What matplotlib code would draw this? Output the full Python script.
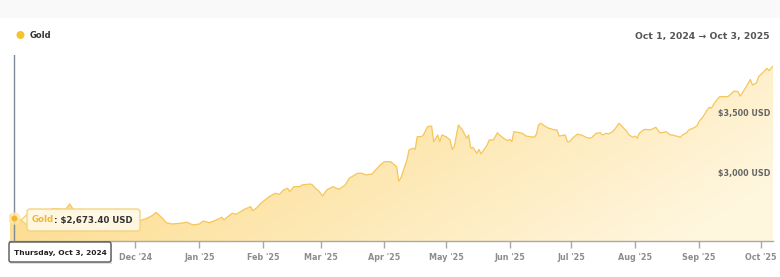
import numpy as np
import pandas as pd
import matplotlib
matplotlib.use("Agg")
import matplotlib.pyplot as plt
import matplotlib.dates as mdates
from matplotlib.patches import FancyBboxPatch, Polygon, Rectangle, Circle
from matplotlib.transforms import IdentityTransform

# gold price (days after Oct 1, 2024 -> USD)
start = pd.Timestamp("2024-10-01")
day_offset = [
    0, 2, 6, 9, 13, 15, 17, 21, 24, 27, 29, 31, 35, 36, 38, 42, 44, 48, 50, 52,
    55, 57, 59, 63, 66, 69, 71, 74, 76, 79, 83, 86, 89, 92,
    94, 97, 101, 103, 104, 108, 110, 114, 117, 118, 120, 122, 126, 129, 131, 133,
    135, 136, 138, 141, 142, 146, 147, 149, 150, 152, 154, 157, 160, 163, 165, 169,
    171, 173, 176, 180, 182, 185,
    188, 189, 190, 193, 194, 196, 197, 198, 200, 201, 203, 205, 206, 208, 209, 210,
    212, 214, 215, 216, 218, 220, 222, 223, 224, 225, 227, 228, 229, 232, 233, 235,
    237, 238, 240, 242, 243, 244, 245, 248, 249, 251, 253, 255, 256, 257, 258, 261,
    262, 265, 266, 267, 270, 271, 272,
    274, 276, 277, 278, 280, 282, 283, 285, 287, 288, 290, 291, 293, 295, 296, 298,
    300, 301, 303, 304, 305, 306, 308, 309, 311, 312, 314, 316, 317, 319, 321, 322,
    324, 326, 327, 329, 330, 332, 334, 335, 337, 339, 340, 341, 343, 345, 347, 349,
    351, 352, 354, 355, 356, 358, 360, 361, 363, 364, 366, 368, 369, 371,
]
price = [
    2690, 2673.4, 2645, 2630, 2650, 2675, 2720, 2748, 2745, 2742, 2787, 2736, 2742, 2660, 2685, 2600, 2568, 2612, 2650, 2712,
    2625, 2635, 2655, 2650, 2665, 2690, 2718, 2672, 2633, 2623, 2629, 2637, 2615, 2622,
    2647, 2633, 2661, 2678, 2656, 2711, 2702, 2743, 2765, 2732, 2756, 2793, 2847, 2875, 2866, 2902,
    2916, 2888, 2929, 2929, 2943, 2951, 2943, 2907, 2896, 2852, 2902, 2929, 2907, 2943, 2998, 3039,
    3039, 3025, 3033, 3107, 3134, 3134,
    3093, 2975, 2998, 3148, 3230, 3244, 3235, 3339, 3339, 3353, 3421, 3426, 3298, 3353, 3298, 3353,
    3339, 3312, 3235, 3257, 3435, 3394, 3326, 3353, 3244, 3252, 3203, 3235, 3197, 3271, 3312, 3312,
    3371, 3353, 3326, 3306, 3317, 3298, 3380, 3371, 3367, 3344, 3339, 3334, 3361, 3435, 3449, 3416,
    3408, 3394, 3394, 3344, 3353, 3298, 3298,
    3334, 3361, 3353, 3353, 3334, 3326, 3334, 3367, 3371, 3353, 3367, 3361, 3380, 3421, 3449, 3416,
    3380, 3353, 3334, 3344, 3326, 3367, 3394, 3399, 3394, 3399, 3416, 3371, 3371, 3380, 3353, 3353,
    3344, 3334, 3353, 3371, 3394, 3408, 3426, 3462, 3503, 3558, 3580, 3572, 3626, 3667, 3667, 3667,
    3695, 3713, 3708, 3672, 3695, 3749, 3809, 3763, 3781, 3831, 3863, 3900, 3880, 3918,
]
month_ticks = pd.date_range("2024-10-01", "2025-10-01", freq="MS")
# Oct/Nov '24 labels sit under the date tooltip
month_labels = ["", ""] + [d.strftime("%b '%y") for d in month_ticks[2:]]
y_ticks = [3000, 3500]
y_tick_labels = ["$3,000 USD", "$3,500 USD"]
hover_date = pd.Timestamp("2024-10-03")
hover_price = 2673.40

W, H = 780, 277
y_min, y_max = 2483, 4009

dates = start + pd.to_timedelta(day_offset, unit="D")
x = mdates.date2num(dates)

fig = plt.figure(figsize=(W / 100, H / 100), dpi=100)
fig.patch.set_facecolor("white")
fig.add_artist(Rectangle((0, H - 18), W, 18, transform=IdentityTransform(),
                         facecolor="#f9f9f9", edgecolor="none", zorder=0))

ax = fig.add_axes([9 / W, (H - 241) / H, (773 - 9) / W, (241 - 55) / H])
ax.set_facecolor("none")
x0 = mdates.date2num(start - pd.Timedelta(hours=12))
x1 = mdates.date2num(start + pd.Timedelta(days=371))
ax.set_xlim(x0, x1)
ax.set_ylim(y_min, y_max)

# gradient area under the line
verts = [(x[0], y_min)] + list(zip(x, price)) + [(x[-1], y_min)]
clip = Polygon(verts, closed=True, facecolor="none", edgecolor="none")
ax.add_patch(clip)
nx, ny = 300, 80
tx = np.linspace(0, 1, nx)[None, :]
ty = np.linspace(1, 0, ny)[:, None]
t = np.clip(0.8 * tx + 0.3 * (1 - ty), 0, 1)
c_left = np.array([252, 212, 118]) / 255
c_right = np.array([255, 246, 222]) / 255
img = c_left[None, None, :] * (1 - t[..., None]) + c_right[None, None, :] * t[..., None]
im = ax.imshow(img, extent=[x0, x1, y_min, y_max], aspect="auto", origin="upper", zorder=1)
im.set_clip_path(clip)

ax.plot(x, price, color="#f6c65a", lw=0.9, zorder=3)

# axes styling
for s in ["top", "right", "left"]:
    ax.spines[s].set_visible(False)
ax.spines["bottom"].set_color("#a8a8a8")
ax.spines["bottom"].set_linewidth(1)
ax.spines["bottom"].set_zorder(4)
ax.set_yticks([])
ax.set_xticks(mdates.date2num(month_ticks))
ax.set_xticklabels(month_labels)
ax.tick_params(axis="x", direction="out", length=5, width=1, color="#a8a8a8",
               labelsize=5.8, labelcolor="#8c8c8c", pad=4)
for lab in ax.get_xticklabels():
    lab.set_fontweight("bold")

for v, lab in zip(y_ticks, y_tick_labels):
    ax.annotate(lab, xy=(1, v), xycoords=("axes fraction", "data"), xytext=(-3, 4),
                textcoords="offset pixels", ha="right", va="center",
                fontsize=5.8, fontweight="bold", color="#666666", zorder=5)

# hover cursor
hx = mdates.date2num(hover_date)
ax.axvline(hx, color="#7e8a96", lw=1, zorder=4)
ax.scatter([hx], [hover_price], s=80, color="#fde7a8", alpha=0.8, zorder=5, linewidths=0)
ax.scatter([hx], [hover_price], s=18, color="#f3b62c", zorder=6, linewidths=0)

# legend + header
fig.add_artist(Circle((20.5, H - 35), 4, transform=IdentityTransform(),
                      facecolor="#f7c22e", edgecolor="none"))
fig.text(30 / W, 1 - 35 / H, "Gold", fontsize=6, fontweight="bold", color="#333333",
         ha="left", va="center")
fig.text(770 / W, 1 - 37 / H, "Oct 1, 2024 \u2192 Oct 3, 2025", fontsize=6.7,
         fontweight="bold", color="#555555", ha="right", va="center")

# value tooltip
bg = "#fff8e4"
tri = Polygon([(21, H - 220), (28, H - 214), (28, H - 226)], closed=True,
              transform=IdentityTransform(), facecolor=bg, edgecolor="#f3d27c", lw=1, zorder=7)
fig.add_artist(tri)
box = FancyBboxPatch((27, H - 231), 113, 22, boxstyle="round,pad=0,rounding_size=3",
                     transform=IdentityTransform(), facecolor=bg, edgecolor="#f3d27c",
                     lw=1, alpha=0.95, zorder=8)
fig.add_artist(box)
t1 = fig.text(32 / W, 1 - 220 / H, "Gold", fontsize=6.2, fontweight="bold",
              color="#f2b632", ha="left", va="center", zorder=9)
renderer = fig.canvas.get_renderer()
bb = t1.get_window_extent(renderer)
fig.text(bb.x1 / W, 1 - 220 / H, ": $2,673.40 USD", fontsize=6.2, fontweight="bold",
         color="#333333", ha="left", va="center", zorder=9)

# date tooltip
fig.add_artist(Rectangle((10, H - 264), 102, 20, transform=IdentityTransform(),
                         facecolor="#000000", alpha=0.12, edgecolor="none", zorder=7))
date_box = FancyBboxPatch((9, H - 262), 102, 20, boxstyle="round,pad=0,rounding_size=2",
                          transform=IdentityTransform(), facecolor="white",
                          edgecolor="#555555", lw=1, zorder=8)
fig.add_artist(date_box)
fig.text(60 / W, 1 - 252.5 / H, "Thursday, Oct 3, 2024", fontsize=5.4,
         fontweight="bold", color="#222222", ha="center", va="center", zorder=9)

fig.savefig("out.png", dpi=100)
